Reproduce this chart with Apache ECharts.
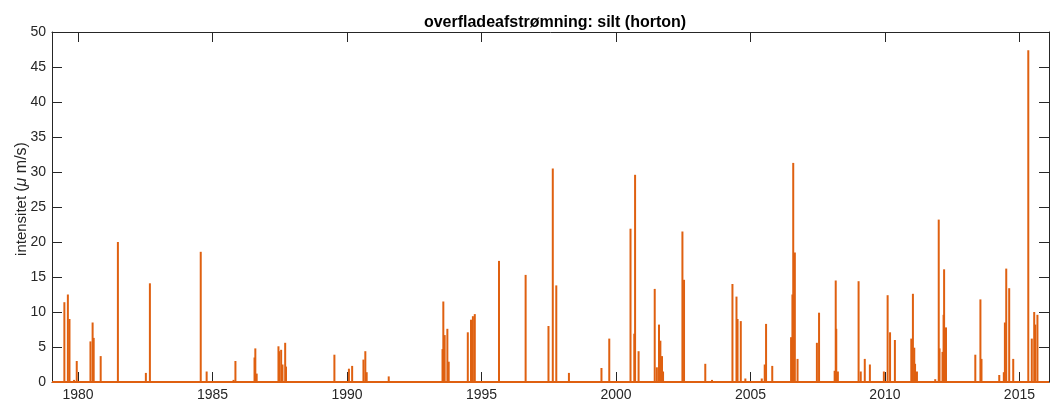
<!DOCTYPE html>
<html>
<head>
<meta charset="utf-8">
<script src="https://cdn.jsdelivr.net/npm/echarts@6/dist/echarts.min.js"></script>
<style>
  html, body { margin: 0; padding: 0; background: #fff; }
  #chart { width: 1051px; height: 407px; }
</style>
</head>
<body>
<div id="chart"></div>
<script>
// tidspunkter (decimalår) og intensitet for afstrømningshændelser
var eventYears = [
  1979.49, 1979.62, 1979.68, 1979.85, 1979.95, 1980.46, 1980.54, 1980.58, 1980.84, 1981.48,
  1982.52, 1982.67, 1984.56, 1984.78, 1985.78, 1985.85, 1986.56, 1986.59, 1986.64, 1987.45,
  1987.47, 1987.55, 1987.60, 1987.70, 1987.73, 1989.53, 1990.07, 1990.19, 1990.61, 1990.68,
  1990.73, 1991.55, 1993.55, 1993.58, 1993.63, 1993.73, 1993.78, 1994.49, 1994.61, 1994.68,
  1994.75, 1995.65, 1996.64, 1997.49, 1997.65, 1997.78, 1998.25, 1999.46, 1999.75, 2000.54,
  2000.68, 2000.71, 2000.84, 2001.44, 2001.52, 2001.60, 2001.65, 2001.71, 2001.75, 2002.47,
  2002.53, 2003.32, 2003.57, 2004.33, 2004.48, 2004.52, 2004.64, 2004.81, 2005.42, 2005.53,
  2005.58, 2005.81, 2006.51, 2006.56, 2006.59, 2006.65, 2006.75, 2007.47, 2007.55, 2008.13,
  2008.17, 2008.19, 2008.25, 2009.02, 2009.10, 2009.25, 2009.44, 2009.96, 2010.10, 2010.19,
  2010.37, 2010.98, 2011.04, 2011.09, 2011.12, 2011.19, 2011.87, 2012.00, 2012.03, 2012.14,
  2012.18, 2012.20, 2012.27, 2013.36, 2013.55, 2013.59, 2014.25, 2014.42, 2014.46, 2014.51,
  2014.62, 2014.77, 2015.33, 2015.46, 2015.55, 2015.59, 2015.67
];
var eventValues = [
  11.4, 12.5, 9.0, 0.3, 3.0, 5.8, 8.5, 6.3, 3.7, 20.0,
  1.3, 14.1, 18.6, 1.5, 0.3, 3.0, 3.5, 4.8, 1.2, 5.1,
  4.4, 4.6, 2.5, 5.6, 2.2, 3.9, 1.9, 2.3, 3.2, 4.4,
  1.4, 0.8, 4.7, 11.5, 6.7, 7.6, 2.9, 7.1, 8.9, 9.4,
  9.7, 17.3, 15.3, 8.0, 30.5, 13.8, 1.3, 2.0, 6.2, 21.9,
  6.9, 29.6, 4.4, 13.3, 2.1, 8.2, 5.9, 3.7, 1.5, 21.5,
  14.6, 2.6, 0.3, 14.0, 12.2, 9.0, 8.7, 0.5, 0.5, 2.5,
  8.3, 2.3, 6.4, 12.5, 31.3, 18.5, 3.3, 5.6, 9.9, 1.6,
  14.5, 7.6, 1.5, 14.4, 1.5, 3.3, 2.5, 1.5, 12.4, 7.1,
  6.0, 6.2, 12.6, 4.9, 2.6, 1.5, 0.4, 23.2, 4.8, 4.3,
  9.6, 16.1, 7.8, 3.9, 11.8, 3.3, 1.0, 1.4, 8.5, 16.2,
  13.4, 3.3, 47.4, 6.2, 10.0, 8.2, 9.6
];

var xTicks = [1980, 1985, 1990, 1995, 2000, 2005, 2010, 2015];

var seriesData = eventYears.map(function (t, i) { return [t, eventValues[i]]; });

var font = 'Liberation Sans, Arial, Helvetica, sans-serif';
var axisCol = '#262626';
var orange = '#DF6010';

var myChart = echarts.init(document.getElementById('chart'));
var option = {
  animation: false,
  backgroundColor: '#fff',
  title: {
    text: 'overfladeafstrømning: silt (horton)',
    left: 550, textAlign: 'center', top: 10,
    textStyle: { fontFamily: font, fontSize: 16, fontWeight: 'bold', color: '#000' }
  },
  grid: { left: 52, right: 2, top: 32, bottom: 25, outerBoundsMode: 'none', containLabel: false },
  xAxis: [{
    type: 'value', min: 1979.03, max: 2016.1,
    axisLine: { show: true, onZero: false, lineStyle: { color: axisCol, width: 1 } },
    axisTick: { show: true, inside: true, length: 10, customValues: xTicks, lineStyle: { color: axisCol } },
    axisLabel: {
      customValues: xTicks, margin: 6, fontFamily: font, fontSize: 14, color: axisCol,
      formatter: function (v) { return String(v); }
    },
    splitLine: { show: false }
  }, {
    type: 'value', position: 'top', min: 1979.03, max: 2016.1,
    axisLine: { show: true, onZero: false, lineStyle: { color: axisCol, width: 1 } },
    axisTick: { show: true, inside: true, length: 10, customValues: xTicks, lineStyle: { color: axisCol } },
    axisLabel: { show: false, customValues: xTicks },
    splitLine: { show: false }
  }],
  yAxis: [{
    type: 'value', min: 0, max: 50, interval: 5,
    name: '{a|intensitet }{b|(}{c|μ}{b| m/s)}', nameLocation: 'middle', nameGap: 22,
    nameMoveOverlap: false,
    nameTextStyle: {
      fontFamily: font, fontSize: 15, color: axisCol, padding: [0, 0, 0, 16],
      rich: {
        a: { fontFamily: font, fontSize: 15, color: axisCol },
        b: { fontFamily: font, fontSize: 16, color: axisCol },
        c: { fontFamily: font, fontSize: 16, fontStyle: 'italic', color: axisCol }
      }
    },
    axisLine: { show: true, onZero: false, lineStyle: { color: axisCol, width: 1 } },
    axisTick: { show: true, inside: true, length: 10, lineStyle: { color: axisCol } },
    axisLabel: { margin: 6, fontFamily: font, fontSize: 14, color: axisCol },
    splitLine: { show: false }
  }, {
    type: 'value', position: 'right', min: 0, max: 50, interval: 5,
    axisLine: { show: true, onZero: false, lineStyle: { color: axisCol, width: 1 } },
    axisTick: { show: true, inside: true, length: 10, lineStyle: { color: axisCol } },
    axisLabel: { show: false },
    splitLine: { show: false }
  }],
  series: [{
    name: 'horton',
    type: 'bar',
    data: seriesData,
    barWidth: 2,
    itemStyle: { color: orange },
    markLine: {
      silent: true, symbol: 'none', label: { show: false },
      lineStyle: { color: orange, width: 2, type: 'solid' },
      data: [{ yAxis: 0 }]
    }
  }]
};
myChart.setOption(option);
</script>
</body>
</html>
